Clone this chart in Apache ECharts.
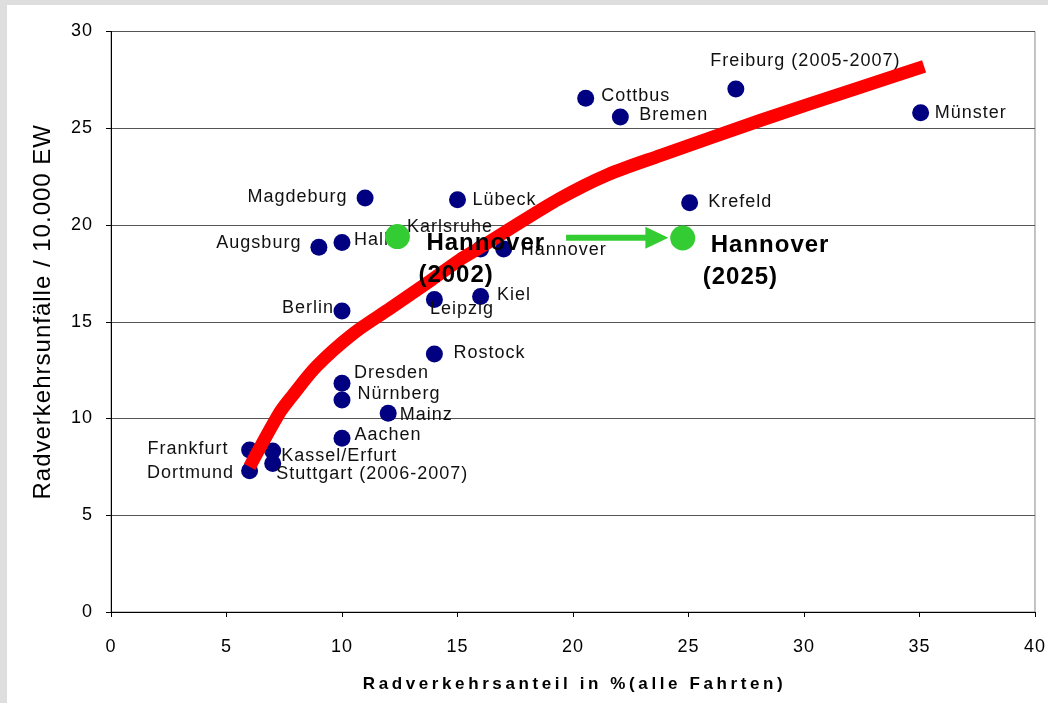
<!DOCTYPE html>
<html>
<head>
    <meta charset="UTF-8">
    <title>Radverkehrsanteil und Radverkehrsunfälle</title>
    <script src="https://cdn.jsdelivr.net/npm/echarts@6/dist/echarts.min.js"></script>
</head>
<body style="margin: 0; background: #dedede;">
    <div id="container" style="position: absolute; left: 7px; top: 5px; width: 1041px; height: 698px; background: #fff;"></div>

    <script type="text/javascript">
        // cities (blue points)
        var cities = ['Magdeburg', 'Lübeck', 'Augsburg', 'Halle', 'Karlsruhe', 'Hannover', 'Kiel', 'Leipzig',
            'Berlin', 'Rostock', 'Dresden', 'Nürnberg', 'Mainz', 'Aachen', 'Frankfurt', 'Dortmund',
            'Kassel/Erfurt', 'Stuttgart (2006-2007)', 'Cottbus', 'Bremen', 'Freiburg (2005-2007)', 'Münster', 'Krefeld'];
        var shareValues = [11.0, 15.0, 9.0, 10.0, 16.0, 17.0, 16.0, 14.0,
            10.0, 14.0, 10.0, 10.0, 12.0, 10.0, 6.0, 6.0,
            7.0, 7.0, 20.55, 22.05, 27.05, 35.05, 25.05];
        var accidentValues = [21.4, 21.3, 18.85, 19.1, 18.76, 18.76, 16.3, 16.15,
            15.55, 13.33, 11.82, 10.96, 10.27, 8.98, 8.37, 7.3,
            8.32, 7.68, 26.55, 25.58, 27.03, 25.8, 21.15];

        // red trend curve
        var curveShare = [6.0, 7.3, 7.8, 8.9, 10.5, 12.1, 13.8, 15.1, 16.0, 17.0, 19.4, 21.5, 23.8, 28.1, 32.4, 35.2];
        var curveAccidents = [7.5, 10.3, 11.1, 12.7, 14.4, 15.7, 17.1, 18.2, 18.85, 19.6, 21.35, 22.6, 23.6, 25.4, 27.1, 28.2];

        // Hannover today and target (green)
        var hannoverYears = ['2002', '2025'];
        var hannoverShare = [12.4, 24.75];
        var hannoverAccidents = [19.4, 19.33];

        // green arrow
        var arrowShare = [19.7, 23.63];
        var arrowAccidents = [19.34, 19.34];

        // where each city label sits: side, dx, dy
        var labelPlace = {
            'Magdeburg': ['left', -4, -1],
            'Lübeck': ['right', 1.5, 0],
            'Augsburg': ['left', -4, -4],
            'Halle': ['right', -1.5, -2],
            'Karlsruhe': ['right', -87, -22],
            'Hannover': ['right', 3.5, 1.5],
            'Kiel': ['right', 3, -2],
            'Leipzig': ['right', -18, 10],
            'Berlin': ['left', 5.5, -3],
            'Rostock': ['right', 5.5, -1],
            'Dresden': ['right', -1.5, -10],
            'Nürnberg': ['right', 2, -6],
            'Mainz': ['right', -2, 2],
            'Aachen': ['right', -1, -3],
            'Frankfurt': ['left', -7.5, -1],
            'Dortmund': ['left', -2, 2],
            'Kassel/Erfurt': ['right', -5, 5],
            'Stuttgart (2006-2007)': ['right', -10, 11],
            'Cottbus': ['right', 2, -2],
            'Bremen': ['right', 5.5, -2],
            'Freiburg (2005-2007)': ['right', -39, -28],
            'Münster': ['right', 0.5, 0],
            'Krefeld': ['right', 5, -1]
        };
        var hannoverPlace = {'2002': [3.5, 23], '2025': [2.5, 23.5]};

        var font = 'Liberation Sans, Arial, sans-serif';
        var green = '#33cc33';

        var dom = document.getElementById('container');
        var myChart = echarts.init(dom);

        var cityData = cities.map(function (c, i) {
            var p = labelPlace[c];
            return {
                name: c,
                value: [shareValues[i], accidentValues[i]],
                label: {position: p[0], offset: [p[1], p[2]]}
            };
        });

        var curveData = curveShare.map(function (x, i) {
            return [x, curveAccidents[i]];
        });

        var hannoverData = hannoverYears.map(function (y, i) {
            return {
                name: y,
                value: [hannoverShare[i], hannoverAccidents[i]],
                label: {offset: hannoverPlace[y]}
            };
        });

        var arrowData = [
            {value: [arrowShare[0], arrowAccidents[0]], symbol: 'none'},
            {value: [arrowShare[1], arrowAccidents[1]], symbol: 'triangle', symbolSize: [22, 23], symbolRotate: -90}
        ];

        var option = {
            animation: false,
            textStyle: {fontFamily: font},
            grid: {
                left: 104,
                right: 12,
                top: 26.5,
                bottom: 91,
                show: true,
                borderColor: '#888',
                borderWidth: 1,
                backgroundColor: '#fff'
            },
            // x axis title on its own layer so it can get wider letter spacing
            graphic: [{
                type: 'text',
                zlevel: 1,
                x: 567.5,
                y: 679,
                style: {
                    text: 'Radverkehrsanteil in %(alle Fahrten)',
                    font: 'bold 17px ' + font,
                    fill: '#000',
                    textAlign: 'center',
                    textVerticalAlign: 'middle'
                }
            }],
            xAxis: {
                type: 'value',
                min: 0,
                max: 40,
                interval: 5,
                axisLine: {show: true, lineStyle: {color: '#000', width: 1}},
                axisTick: {show: true, length: 5, lineStyle: {color: '#000'}},
                axisLabel: {fontSize: 18, color: '#000', margin: 26, fontFamily: font},
                splitLine: {show: false}
            },
            yAxis: {
                type: 'value',
                min: 0,
                max: 30,
                interval: 5,
                name: 'Radverkehrsunfälle / 10.000 EW',
                nameLocation: 'middle',
                nameGap: 56,
                nameTextStyle: {fontSize: 24, color: '#000', fontFamily: font, padding: [0, 0, 0, 20]},
                axisLine: {show: true, lineStyle: {color: '#000', width: 1}},
                axisTick: {show: true, length: 5, lineStyle: {color: '#000'}},
                axisLabel: {fontSize: 18, color: '#000', margin: 18, fontFamily: font},
                splitLine: {show: true, lineStyle: {color: '#555', width: 1}}
            },
            series: [
                {
                    name: 'Städte',
                    type: 'scatter',
                    z: 2,
                    symbolSize: 17,
                    itemStyle: {color: '#000080', opacity: 1},
                    label: {
                        show: true,
                        formatter: '{b}',
                        distance: 5,
                        fontSize: 18,
                        color: '#111',
                        fontFamily: font
                    },
                    data: cityData
                },
                {
                    name: 'Trend',
                    type: 'line',
                    z: 3,
                    smooth: 0.3,
                    symbol: 'none',
                    lineStyle: {color: '#ff0000', width: 13, cap: 'butt', join: 'round'},
                    data: curveData
                },
                {
                    name: 'Pfeil',
                    type: 'line',
                    z: 4,
                    symbol: 'none',
                    lineStyle: {color: green, width: 6, cap: 'butt'},
                    itemStyle: {color: green},
                    data: arrowData
                },
                {
                    name: 'Hannover',
                    type: 'scatter',
                    z: 5,
                    symbolSize: 25,
                    itemStyle: {color: green, opacity: 1},
                    label: {
                        show: true,
                        position: 'right',
                        distance: 5,
                        align: 'left',
                        formatter: function (p) {
                            return '{a|Hannover}\n{b|(' + p.name + ')}';
                        },
                        rich: {
                            a: {fontSize: 24, fontWeight: 'bold', lineHeight: 32, padding: [0, 0, 0, 8], color: '#000', fontFamily: font},
                            b: {fontSize: 24, fontWeight: 'bold', lineHeight: 32, color: '#000', fontFamily: font}
                        }
                    },
                    data: hannoverData
                }
            ]
        };

        if (option && typeof option === 'object') {
            myChart.setOption(option, true);

            // the original text is spaced out a little; canvas layers keep this setting
            var canvases = dom.querySelectorAll('canvas');
            for (var i = 0; i < canvases.length; i++) {
                var layerId = canvases[i].getAttribute('data-zr-dom-id');
                canvases[i].getContext('2d').letterSpacing = layerId === 'zr_1' ? '3.6px' : '1px';
            }
            myChart.setOption(option, true);
        }
    </script>
</body>
</html>
